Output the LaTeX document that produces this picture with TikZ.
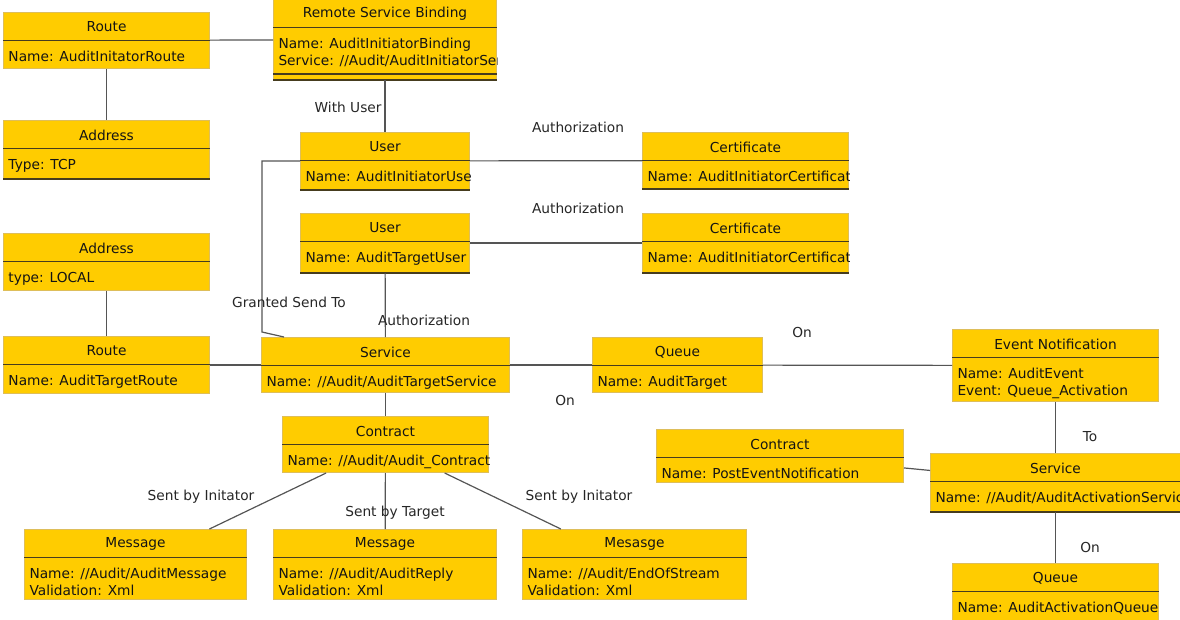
\documentclass[tikz,border=0pt]{standalone}
\usepackage{fontspec}
\setmainfont{DejaVu Sans}
\usetikzlibrary{calc}

\definecolor{boxfill}{RGB}{255,204,0}
\definecolor{boxedge}{RGB}{222,190,90}
\definecolor{sepcol}{RGB}{70,60,30}
\definecolor{linkcol}{RGB}{85,85,85}
\definecolor{txtcol}{RGB}{20,20,20}

\tikzset{every picture/.style={line width=0.75pt}}
\tikzset{
  entity/.style 2 args={rectangle, anchor=north west, inner sep=0pt,
    fill=boxfill, draw=boxedge, minimum width=#1*0.75pt, minimum height=#2*0.75pt},
  titletext/.style={inner sep=0pt, text=txtcol},
  attrtext/.style={inner sep=0pt, anchor=base west, text=txtcol},
  sepline/.style={draw=sepcol, line width=1.1pt},
  link/.style={draw=linkcol, line width=0.9pt},
  rolelabel/.style={inner sep=0.75pt, text=black!85},
}

\begin{document}
\begin{tikzpicture}[x=0.75pt,y=0.75pt,yscale=-1,font=\fontsize{10.3}{12.75}\selectfont]
\useasboundingbox (0,0) rectangle (1180,619);

%Shape: Class
\node[entity={206}{56}] (routeA) at (3,12) {};
\node[entity={223}{80}] (rsb) at (273,-1) {};
\node[entity={206}{58}] (addrA) at (3,120) {};
\node[entity={169}{57}] (userA) at (300,132) {};
\node[entity={206}{56}] (certA) at (642,132) {};
\node[entity={169}{59}] (userB) at (300,213) {};
\node[entity={206}{59}] (certB) at (642,213) {};
\node[entity={206}{57}] (addrB) at (3,233) {};
\node[entity={206}{57}] (routeB) at (3,336) {};
\node[entity={248}{55}] (servA) at (261,337) {};
\node[entity={170}{55}] (queueA) at (592,337) {};
\node[entity={206}{72}] (evtA) at (952,329) {};
\node[entity={206}{56}] (contrA) at (282,416) {};
\node[entity={247}{53}] (contrB) at (656,429) {};
\node[entity={250}{58}] (servB) at (930,453) {};
\node[entity={206}{60}] (queueB) at (952,563) {};
\node[entity={222}{70}] (msgA) at (24,529) {};
\node[entity={223}{70}] (msgB) at (273,529) {};
\node[entity={224}{70}] (msgC) at (522,529) {};

%Class texts, clipped to the box
\foreach \n/\t/\a/\b in {
  routeA/Route/{Name: AuditInitatorRoute}/{},
  rsb/{Remote Service Binding}/{Name: AuditInitiatorBinding}/{Service: //Audit/AuditInitiatorService},
  addrA/Address/{Type: TCP}/{},
  userA/User/{Name: AuditInitiatorUser}/{},
  certA/Certificate/{Name: AuditInitiatorCertificate}/{},
  userB/User/{Name: AuditTargetUser}/{},
  certB/Certificate/{Name: AuditInitiatorCertificate}/{},
  addrB/Address/{type: LOCAL}/{},
  routeB/Route/{Name: AuditTargetRoute}/{},
  servA/Service/{Name: //Audit/AuditTargetService}/{},
  queueA/Queue/{Name: AuditTarget}/{},
  evtA/{Event Notification}/{Name: AuditEvent}/{Event: Queue\_Activation},
  contrA/Contract/{Name: //Audit/Audit\_Contract}/{},
  contrB/Contract/{Name: PostEventNotification}/{},
  servB/Service/{Name: //Audit/AuditActivationService}/{},
  queueB/Queue/{Name: AuditActivationQueue}/{},
  msgA/Message/{Name: //Audit/AuditMessage}/{Validation: Xml},
  msgB/Message/{Name: //Audit/AuditReply}/{Validation: Xml},
  msgC/Mesasge/{Name: //Audit/EndOfStream}/{Validation: Xml}}{
  \begin{scope}
    \clip (\n.north west) rectangle (\n.south east);
    \node[titletext] (\n-t) at ($(\n.north)+(0,15)$) {\t};
    \draw[sepline] ($(\n.north west)+(0,28.5)$) -- ($(\n.north east)+(0,28.5)$);
    \node[attrtext] (\n-a) at ($(\n.north west)+(5,49)$) {\a};
    \node[attrtext] (\n-b) at ($(\n.north west)+(5,66)$) {\b};
  \end{scope}
}

%closing compartments
\draw[sepline] ($(rsb.south west)+(0,-6)$) -- ($(rsb.south east)+(0,-6)$);
\foreach \n in {rsb,addrA,userA,certA,userB,certB,servB}
  \draw[sepline] (\n.south west) -- (\n.south east);

%Straight Lines
\draw[link] (routeA) -- (rsb);
\draw[link] (routeA) -- (addrA);
\draw[link] (rsb) -- (userA);
\draw[link] (userA) -- (certA);
\draw[link] (userB) -- (certB);
\draw[link] (userB) -- (servA);
\draw[link] (addrB) -- (routeB);
\draw[link] (routeB) -- (servA);
\draw[link] (servA) -- (queueA);
\draw[link] (queueA) -- (evtA);
\draw[link] (servA) -- (contrA);
\draw[link] (contrA) -- (msgA);
\draw[link] (contrA) -- (msgB);
\draw[link] (contrA) -- (msgC);
\draw[link] (evtA) -- (servB);
\draw[link] (contrB) -- (servB);
\draw[link] (servB) -- (queueB);
%Polyline
\coordinate (gBend) at (262,332);
\draw[link] (userA.west) -| (gBend) -- ($(servA.north west)+(23,0)$);

% Text Node
\draw (383,107) node [rolelabel, anchor=east] (lWithUser) {With User};
% Text Node
\draw (578,127) node [rolelabel] (lAuthA) {Authorization};
% Text Node
\draw (578,208) node [rolelabel] (lAuthB) {Authorization};
% Text Node
\draw (289,302) node [rolelabel] (lGranted) {Granted Send To};
% Text Node
\draw (424,320) node [rolelabel] (lAuthC) {Authorization};
% Text Node
\draw (802,332) node [rolelabel] (lOnA) {On};
% Text Node
\draw (565,400) node [rolelabel] (lOnB) {On};
% Text Node
\draw (1090,437) node [rolelabel] (lTo) {To};
% Text Node
\draw (201,497) node [rolelabel] (lSentA) {Sent by Initator};
% Text Node
\draw (395,513) node [rolelabel] (lSentB) {Sent by Target};
% Text Node
\draw (579,497) node [rolelabel] (lSentC) {Sent by Initator};
% Text Node
\draw (1090,547) node [rolelabel] (lOnC) {On};

\end{tikzpicture}
\end{document}
